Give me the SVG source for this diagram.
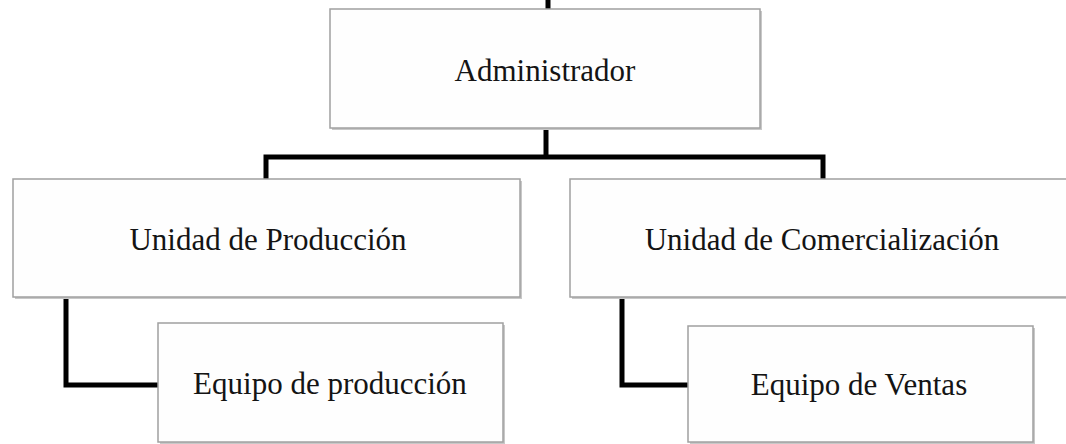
<svg xmlns="http://www.w3.org/2000/svg" width="1066" height="444" viewBox="0 0 1066 444">
<style>
.box{fill:#fefefe;stroke:#a0a0a0;stroke-width:1.5}
.sh{fill:#c8c8c8}
.lbl{font-family:"Liberation Serif","Times New Roman",serif;font-size:31px;fill:#141414;text-anchor:middle}
.con{fill:none;stroke:#000;stroke-width:5;stroke-linejoin:miter}
</style>
<rect width="1066" height="444" fill="#fff"/>
<g id="connectors">
<line class="con" x1="548" y1="0" x2="548" y2="9"/>
<polyline class="con" points="546,128 546,157"/>
<polyline class="con" points="266,180 266,157 823,157 823,180"/>
<polyline class="con" points="66,297 66,385 158,385"/>
<polyline class="con" points="622,297 622,385 689,385"/>
</g>
<g id="admin">
<rect class="sh" x="332" y="11" width="430" height="119"/>
<rect class="box" x="330" y="9" width="430" height="119"/>
<text class="lbl" x="545" y="81">Administrador</text>
</g>
<g id="produccion">
<rect class="sh" x="15" y="181" width="507" height="118"/>
<rect class="box" x="13" y="179" width="507" height="118"/>
<text class="lbl" x="268" y="250">Unidad de Producción</text>
</g>
<g id="comercializacion">
<rect class="sh" x="572" y="181" width="500" height="118"/>
<rect class="box" x="570" y="179" width="500" height="118"/>
<text class="lbl" x="822" y="250">Unidad de Comercialización</text>
</g>
<g id="equipo-produccion">
<rect class="sh" x="160" y="325" width="345" height="119"/>
<rect class="box" x="158" y="323" width="345" height="119"/>
<text class="lbl" x="330" y="394">Equipo de producción</text>
</g>
<g id="equipo-ventas">
<rect class="sh" x="690" y="328" width="345" height="116"/>
<rect class="box" x="688" y="326" width="345" height="116"/>
<text class="lbl" x="859" y="395">Equipo de Ventas</text>
</g>
</svg>
